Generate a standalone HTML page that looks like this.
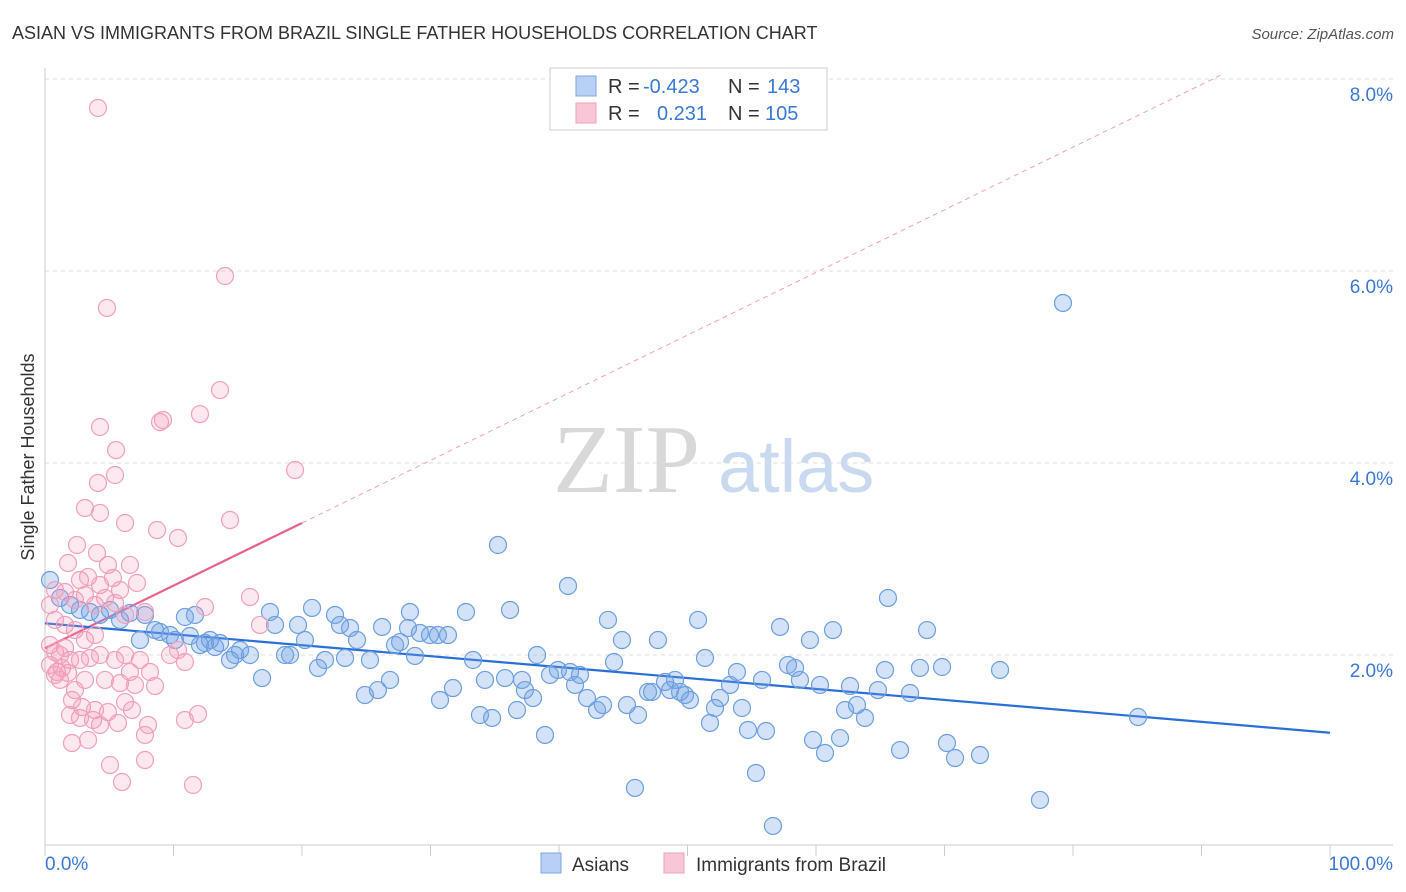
<!DOCTYPE html>
<html><head><meta charset="utf-8"><style>
body{margin:0;background:#fff;font-family:"Liberation Sans",sans-serif;}
svg{display:block}
</style></head><body>
<svg id="chart" width="1406" height="892" xmlns="http://www.w3.org/2000/svg">
<text x="12" y="39" font-size="18" fill="#333">ASIAN VS IMMIGRANTS FROM BRAZIL SINGLE FATHER HOUSEHOLDS CORRELATION CHART</text>
<text x="1394" y="39" font-size="15" fill="#555" font-style="italic" text-anchor="end">Source: ZipAtlas.com</text>
<g>
<text x="553" y="492" font-family="Liberation Serif,serif" font-size="98" fill="#d8d8d8">ZIP</text>
<text x="718" y="492" font-size="74" fill="#c9d9ef">atlas</text>
</g>
<g id="grid"></g>
<g id="axes"></g>
<g id="trend"></g>
<g id="pts"></g>
<text transform="translate(34,457) rotate(-90)" font-size="18" fill="#333" text-anchor="middle">Single Father Households</text>
<g>
<rect x="550" y="68" width="277" height="62" fill="#fff" stroke="#ccc"/>
<rect x="576" y="76" width="20" height="20" fill="#b7d0f3" stroke="#7fa8e0"/>
<rect x="576" y="103" width="20" height="20" fill="#f8c6d6" stroke="#efa0bb"/>
<text x="608" y="93" font-size="20" fill="#333">R =</text>
<text x="643" y="93" font-size="20" fill="#3a78d4">-0.423</text>
<text x="728" y="93" font-size="20" fill="#333">N =</text>
<text x="767" y="93" font-size="20" fill="#3a78d4">143</text>
<text x="608" y="120" font-size="20" fill="#333">R =</text>
<text x="657" y="120" font-size="20" fill="#3a78d4">0.231</text>
<text x="728" y="120" font-size="20" fill="#333">N =</text>
<text x="765" y="120" font-size="20" fill="#3a78d4">105</text>
</g>
<g>
<rect x="541" y="853" width="20" height="20" fill="#b7d0f3" stroke="#7fa8e0"/>
<text x="572" y="871" font-size="19" fill="#333">Asians</text>
<rect x="664" y="853" width="20" height="20" fill="#f8c6d6" stroke="#efa0bb"/>
<text x="696" y="871" font-size="19" fill="#333">Immigrants from Brazil</text>
</g>
</svg>
<script>
const yTicks=[2,4,6,8];
const yTickLabels=["2.0%","4.0%","6.0%","8.0%"];
const xTickLabels=["0.0%","100.0%"];
const blueTrend=[2.33,1.19];
const pinkTrend=[2.07,3.375];
const pinkTrendEndX=20;
const bluePx=[[50,580],[60,598],[70,605],[80,610],[90,612],[100,615],[110,610],[120,620],[130,613],[145,615],[140,640],[155,630],[160,632],[170,635],[175,640],[185,617],[190,636],[195,615],[200,645],[205,643],[210,640],[215,647],[220,643],[230,660],[235,655],[240,650],[250,655],[262,678],[270,612],[275,625],[285,655],[290,655],[298,625],[305,640],[312,608],[318,668],[325,660],[335,615],[340,625],[345,658],[350,628],[357,640],[365,695],[370,660],[378,690],[382,627],[390,680],[395,645],[400,642],[408,628],[410,612],[415,656],[420,633],[430,635],[438,635],[440,700],[448,635],[453,688],[466,612],[473,660],[480,715],[485,680],[492,718],[498,545],[505,678],[510,610],[517,710],[522,680],[525,690],[533,698],[537,655],[545,735],[550,675],[558,670],[568,586],[570,672],[575,685],[580,675],[587,698],[597,710],[603,705],[608,620],[614,662],[622,640],[627,705],[635,788],[638,715],[648,692],[652,692],[658,640],[665,682],[670,690],[675,680],[680,692],[685,695],[690,700],[698,620],[705,658],[710,723],[715,708],[720,698],[730,685],[737,672],[742,708],[748,730],[756,773],[762,680],[766,731],[773,826],[780,627],[788,665],[795,668],[800,680],[810,640],[813,740],[820,685],[825,753],[833,630],[840,738],[845,710],[850,686],[857,705],[865,718],[878,690],[885,670],[888,598],[900,750],[910,693],[920,668],[927,630],[942,667],[947,743],[955,758],[980,755],[1000,670],[1040,800],[1063,303],[1138,717]];
const pinkPx=[[98,108],[225,276],[107,308],[220,390],[200,414],[160,422],[100,427],[163,420],[116,450],[295,470],[98,483],[115,475],[85,508],[100,513],[230,520],[125,523],[157,530],[178,538],[77,545],[97,553],[68,563],[108,565],[80,580],[88,577],[113,578],[130,565],[100,585],[120,590],[137,583],[55,590],[65,592],[75,600],[85,595],[95,605],[105,598],[115,603],[125,615],[145,612],[205,607],[250,597],[260,625],[55,620],[65,625],[75,630],[85,640],[95,635],[50,645],[55,652],[60,655],[65,648],[70,660],[50,665],[57,672],[62,668],[68,673],[80,660],[90,658],[100,655],[115,660],[125,655],[140,660],[130,672],[135,685],[150,672],[170,655],[178,650],[185,662],[55,675],[75,690],[85,680],[105,680],[120,683],[155,686],[72,700],[82,707],[95,710],[108,712],[125,702],[132,710],[70,715],[80,718],[93,720],[100,725],[118,723],[148,725],[185,720],[198,714],[145,735],[72,743],[88,740],[110,765],[145,760],[122,782],[193,785],[50,605],[60,680]];
const asianX=bluePx.map(p=>+((p[0]-45)/12.85).toFixed(2));
const asianY=bluePx.map(p=>+((847-p[1])/96).toFixed(3));
const brazilX=pinkPx.map(p=>+((p[0]-45)/12.85).toFixed(2));
const brazilY=pinkPx.map(p=>+((847-p[1])/96).toFixed(3));
const NS="http://www.w3.org/2000/svg";
const X=v=>45+v*12.85, Y=v=>847-v*96;
function mk(t,a,parent){const e=document.createElementNS(NS,t);for(const k in a)e.setAttribute(k,a[k]);parent.appendChild(e);return e;}
const grid=document.getElementById('grid'),axes=document.getElementById('axes'),trend=document.getElementById('trend'),pts=document.getElementById('pts');
yTicks.forEach((t,i)=>{
 const l=mk('line',{x1:45,x2:1393,y1:Y(t),y2:Y(t),stroke:'#ddd','stroke-dasharray':'4,4'},grid);
 
 
 const tx=mk('text',{x:1393,y:Y(t)+22,'font-size':19,fill:'#3a78d4','text-anchor':'end'},axes);
 tx.textContent=yTickLabels[i];
 
 
});
let a=mk('line',{x1:45,x2:45,y1:68,y2:845,stroke:'#ccc'},axes);


a=mk('line',{x1:45,x2:1393,y1:845,y2:845,stroke:'#ccc'},axes);


for(let i=0;i<=10;i++){const t=mk('line',{x1:X(i*10),x2:X(i*10),y1:845,y2:856,stroke:'#ccc'},axes);
 
 }
let xl=mk('text',{x:45,y:870,'font-size':19,fill:'#3a78d4'},axes);xl.textContent=xTickLabels[0];


xl=mk('text',{x:1393,y:870,'font-size':19,fill:'#3a78d4','text-anchor':'end'},axes);xl.textContent=xTickLabels[1];


asianX.forEach((x,i)=>{const c=mk('circle',{cx:X(x),cy:Y(asianY[i]),r:8.5,fill:'rgba(110,160,230,0.3)',stroke:'#6d9fe0','stroke-width':1.2},pts);
 
 });
brazilX.forEach((x,i)=>{const c=mk('circle',{cx:X(x),cy:Y(brazilY[i]),r:8.5,fill:'rgba(244,150,180,0.22)',stroke:'#f0a0bc','stroke-width':1.2},pts);
 
 });
const slope=(pinkTrend[1]-pinkTrend[0])/pinkTrendEndX;
const endX=Math.min(100,(8.05-pinkTrend[0])/slope);
let t=mk('line',{x1:X(pinkTrendEndX),y1:Y(pinkTrend[1]),x2:X(endX),y2:Y(pinkTrend[0]+slope*endX),stroke:'#f0a0bc','stroke-dasharray':'5,4','stroke-width':1},trend);


t=mk('line',{x1:X(0),y1:Y(pinkTrend[0]),x2:X(pinkTrendEndX),y2:Y(pinkTrend[1]),stroke:'#e8608e','stroke-width':2.2},trend);


t=mk('line',{x1:X(0),y1:Y(blueTrend[0]),x2:X(100),y2:Y(blueTrend[1]),stroke:'#2a6fd6','stroke-width':2.2},trend);


</script>
</body></html>
